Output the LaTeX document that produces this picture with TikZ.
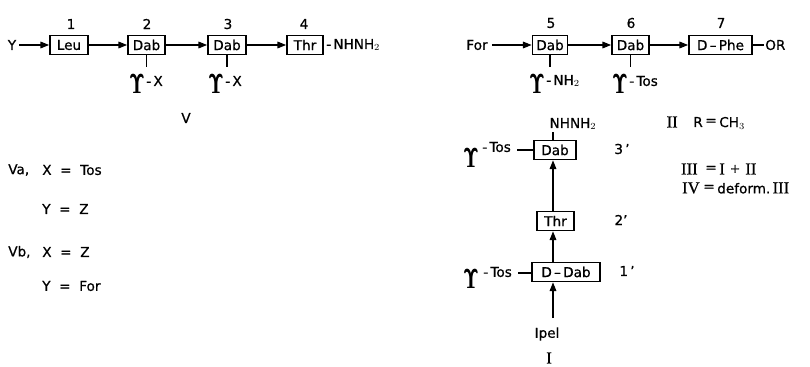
\documentclass[tikz,border=0pt]{standalone}
\usepackage[no-math]{fontspec}
\setmainfont{DejaVu Sans}[FakeBold=0.7]
\newfontfamily\romfont{Liberation Serif}[FakeBold=0.7]
\usetikzlibrary{arrows.meta}

% side-chain symbol: bold upsilon with hooks, narrowed and thickened
\newcommand{\upsglyph}{\scalebox{0.62}[1]{$\mathbf{\Upsilon}$}}
\newcommand{\sidechain}{\rlap{\upsglyph}\hspace{0.5pt}\upsglyph}
% straight prime mark
\newcommand{\prm}{\char"27}

\begin{document}
\begin{tikzpicture}[x=0.75pt,y=-0.75pt,
  every node/.style={inner sep=0pt,font=\fontsize{10.2}{12}\selectfont},
  res/.style={draw,line width=1.3pt,minimum height=14.25pt,minimum width=#1*0.75pt},
  lbl/.style={},
  num/.style={},
  ups/.style={font=\fontsize{22}{22}\selectfont},
  rom/.style={font=\romfont\fontsize{12.5}{14}\selectfont},
  arr/.style={line width=0.8pt,-{Triangle[length=6.5pt,width=5pt]}},
  bond/.style={line width=0.9pt}]
\useasboundingbox (0,0) rectangle (810,367);

% ---------- peptide V ----------
\node[lbl] (Y) at (12,45) {Y};
\node[res=38] (b1) at (69,45) {Leu};
\node[res=37] (b2) at (146.5,45) {Dab};
\node[res=38] (b3) at (227,45) {Dab};
\node[res=36] (b4) at (305,45) {Thr};
\node[lbl,anchor=west] (hz1) at (326,45) {-\,NHNH$_2$};

\node[num] (n1) at (71,24) {1};
\node[num] (n2) at (147,24) {2};
\node[num] (n3) at (228,24) {3};
\node[num] (n4) at (304,24) {4};

\draw[arr] (Y.east) ++(3,0) coordinate (y0) (y0) -- (b1);
\draw[arr] (b1) -- (b2);
\draw[arr] (b2) -- (b3);
\draw[arr] (b3) -- (b4);

\coordinate (s2) at (146.5,67);
\coordinate (s3) at (227,67);
\draw[bond] (b2.south) -- (s2);
\draw[bond] (b3.south) -- (s3);
\node[ups] (u2) at (137,84) {\sidechain};
\node[lbl,anchor=west] (x2) at (146,81) {-\,X};
\node[ups] (u3) at (216,84) {\sidechain};
\node[lbl,anchor=west] (x3) at (225,81) {-\,X};

\node[lbl] (capV) at (186,118) {V};

\node[lbl,anchor=west] (va) at (8,170) {Va,};
\node[lbl,anchor=west] (vax) at (42,170) {X\ \ =\ \ Tos};
\node[lbl,anchor=west] (vay) at (42,209) {Y\ \ =\ \ Z};
\node[lbl,anchor=west] (vb) at (8,252) {Vb,};
\node[lbl,anchor=west] (vbx) at (42,252) {X\ \ =\ \ Z};
\node[lbl,anchor=west] (vby) at (42,286) {Y\ \ =\ \ For};

% ---------- peptide I ----------
\node[lbl] (For) at (477,45) {For};
\node[res=35] (c5) at (550,45) {Dab};
\node[res=37] (c6) at (630.5,45) {Dab};
\node[res=63] (c7) at (720.5,45) {D\,--\,Phe};
\coordinate (orl) at (764,45);
\node[lbl,anchor=west] (OR) at (765,45) {OR};
\draw[bond] (c7.east) -- (orl);

\node[num] (n5) at (551,23) {5};
\node[num] (n6) at (631,23) {6};
\node[num] (n7) at (721,23) {7};

\draw[arr] (For.east) ++(4,0) coordinate (f0) (f0) -- (c5);
\draw[arr] (c5) -- (c6);
\draw[arr] (c6) -- (c7);

\coordinate (s5) at (550,67);
\coordinate (s6) at (630.5,67);
\draw[bond] (c5.south) -- (s5);
\draw[bond] (c6.south) -- (s6);
\node[ups] (u5) at (537,84) {\sidechain};
\node[lbl,anchor=west] (x5) at (546,81) {-\,NH$_2$};
\node[ups] (u6) at (620,84) {\sidechain};
\node[lbl,anchor=west] (x6) at (629,81) {-\,Tos};

% vertical branch
\coordinate (col) at (553,0);
\node[res=42] (d3) at (555,150) {Dab};
\node[res=37] (d2) at (555.5,221) {Thr};
\node[res=68] (d1) at (566,272) {D\,--\,Dab};
\node[lbl] (hz2) at (573,124) {NHNH$_2$};
\coordinate (hzb) at (553,132);
\draw[bond] (d3.north -| col) -- (hzb);

\node[lbl] (p3) at (622,149) {3\,\prm};
\node[lbl] (p2) at (621,220) {2\prm};
\node[lbl] (p1) at (627,271) {1\,\prm};

\node[lbl] (Ipel) at (547,334) {Ipel};
\coordinate (ip) at (553,318);
\draw[arr] (ip) -- (d1.south -| col);
\draw[arr] (d1.north -| col) -- (d2.south -| col);
\draw[arr] (d2.north -| col) -- (d3.south -| col);
\node[rom] (capI) at (549,358) {I};

\node[ups] (u31) at (471,158) {\sidechain};
\node[lbl,anchor=west] (t31) at (482,147) {-\,Tos};
\coordinate (t31e) at (517,150);
\draw[bond] (t31e) -- (d3.west);
\node[ups] (u11) at (471,279) {\sidechain};
\node[lbl,anchor=west] (t11) at (483,272) {-\,Tos};
\coordinate (t11e) at (518,273);
\draw[bond] (t11e) -- (d1.west |- t11e);

% definitions
\node[rom,anchor=east] (r2) at (678,122) {II};
\node[lbl,anchor=east] (r2b) at (703,122) {R};
\node[lbl] (eq2) at (711,122) {=};
\node[lbl,anchor=west] (r2c) at (719,123) {CH$_3$};

\node[rom,anchor=east] (r3) at (698,169) {III};
\node[lbl] (eq3) at (711,169) {=};
\node[rom,anchor=west] (r3b) at (719,169) {I\,\,+\,\,II};

\node[rom,anchor=east] (r4) at (700,188) {IV};
\node[lbl] (eq4) at (709,188) {=};
\node[lbl,anchor=west] (r4b) at (717,188) {deform.\,{\romfont\fontsize{12.5}{14}\selectfont III}};
\end{tikzpicture}
\end{document}
